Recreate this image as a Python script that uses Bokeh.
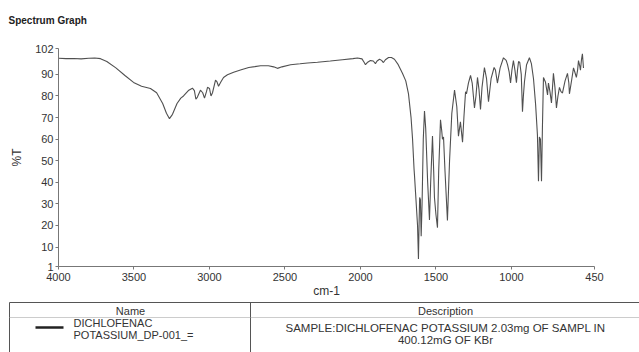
from bokeh.plotting import figure
from bokeh.layouts import column
from bokeh.models import Range1d, FixedTicker
from bokeh.core.properties import value
from bokeh.embed import file_html
from bokeh.resources import INLINE

# ---- data ----
wavenumber = [4000, 3950, 3900, 3850, 3800, 3760, 3722, 3680, 3620, 3560, 3503, 3450, 3391, 3350, 3310,
              3285, 3265, 3245, 3215, 3190, 3172, 3140, 3113, 3100, 3090, 3080, 3060, 3045, 3033, 3020,
              3013, 3000, 2990, 2980, 2960, 2950, 2940, 2925, 2907, 2881, 2840, 2795, 2740, 2700, 2662,
              2610, 2575, 2550, 2520, 2463, 2400, 2350, 2285, 2200, 2120, 2050, 2020, 1990, 1975, 1967,
              1955, 1934, 1915, 1901, 1890, 1874, 1860, 1848, 1835, 1814, 1795, 1775, 1750, 1722, 1700,
              1682, 1665, 1655, 1645, 1642, 1635, 1622, 1616, 1612, 1608, 1603, 1598, 1592, 1584, 1576,
              1568, 1555, 1543, 1535, 1523, 1515, 1510, 1500, 1490, 1482, 1470, 1462, 1457, 1450, 1440,
              1424, 1410, 1395, 1377, 1362, 1351, 1338, 1324, 1315, 1304, 1298, 1285, 1271, 1260, 1245,
              1235, 1225, 1215, 1205, 1195, 1179, 1165, 1152, 1135, 1115, 1106, 1093, 1075, 1053, 1035,
              1026, 1015, 1006, 997, 987, 977, 967, 960, 953, 945, 935, 927, 921, 914, 900,
              881, 868, 854, 840, 828, 821, 815, 808, 801, 795, 788, 775, 761, 755, 745,
              735, 722, 712, 702, 692, 682, 672, 662, 645, 629, 620, 616, 600, 589, 580,
              570, 562, 556, 548, 543, 536, 530, 523]
transmittance = [97.5, 97.3, 97.4, 97.2, 97.5, 97.6, 97.3, 96.0, 93.0, 89.5, 86.3, 84.5, 83.5, 81.5, 76.5,
                 72.0, 69.5, 71.5, 76.5, 79.0, 80.0, 82.5, 83.6, 82.5, 78.5, 79.5, 82.7, 81.5, 79.0, 82.0,
                 84.0, 83.5, 80.0, 81.5, 87.3, 86.5, 84.5, 86.5, 88.6, 89.8, 91.0, 92.0, 93.2, 93.6, 94.0,
                 94.0, 93.5, 92.8, 93.5, 94.5, 94.9, 95.3, 95.6, 96.2, 96.8, 97.3, 97.6, 97.2, 95.5, 94.5,
                 95.5, 96.4, 96.2, 95.0, 96.2, 97.0, 96.5, 95.5, 96.8, 97.8, 97.8, 97.0, 94.5, 90.5, 87.0,
                 81.0, 70.0, 60.0, 46.0, 43.0, 35.0, 20.0, 4.5, 20.0, 33.0, 32.0, 15.0, 30.0, 60.0, 73.0,
                 65.0, 40.0, 22.5, 40.0, 61.4, 45.0, 33.0, 25.0, 19.0, 45.0, 69.0, 64.0, 60.0, 61.0, 45.0,
                 22.3, 50.0, 72.0, 82.7, 75.0, 61.4, 68.0, 58.6, 70.0, 82.0, 81.0, 86.0, 89.5, 86.0, 74.5,
                 80.0, 88.6, 83.0, 73.8, 84.0, 93.2, 88.0, 77.3, 88.0, 93.2, 92.0, 86.0, 93.0, 97.7, 96.5,
                 94.5, 91.0, 86.0, 92.0, 96.4, 92.0, 86.2, 92.0, 96.0, 95.5, 90.0, 72.7, 80.0, 86.5, 94.5,
                 97.7, 95.0, 88.0, 76.0, 62.0, 40.5, 61.0, 60.0, 40.5, 65.0, 88.6, 86.5, 80.5, 86.0, 82.0,
                 76.8, 90.5, 84.0, 74.5, 80.0, 84.0, 82.0, 81.4, 87.0, 90.5, 86.0, 81.0, 88.0, 93.0, 91.0,
                 88.6, 92.0, 96.4, 94.0, 92.0, 97.0, 99.5, 93.0]

x_ticks = [4000, 3500, 3000, 2500, 2000, 1500, 1000, 450]
y_ticks = [1, 10, 20, 30, 40, 50, 60, 70, 80, 90, 102]

title_text = "Spectrum Graph"
x_label = "cm-1"
y_label = "%T"
col_headers = ["Name", "Description"]
sample_name = ["DICHLOFENAC", "POTASSIUM_DP-001_="]
sample_desc = ["SAMPLE:DICHLOFENAC POTASSIUM 2.03mg OF SAMPL IN", "400.12mG OF KBr"]

FONT = "Liberation Sans"
TXT = "#333333"
W = 639

# ---- title strip ----
t = figure(width=W, height=34, x_range=Range1d(0, W), y_range=Range1d(34, 0),
           output_backend="svg", toolbar_location=None, min_border=0,
           min_border_left=0, min_border_right=0, min_border_top=0, min_border_bottom=0)
t.frame_align = False
t.axis.visible = False
t.grid.visible = False
t.outline_line_color = None
t.text(x=[8], y=[20], text=[title_text], text_font=value(FONT), text_font_size="10px",
       text_font_style="bold", text_color="#222222", text_baseline="middle", text_align="left")

# ---- spectrum ----
p = figure(width=W, height=266, x_range=Range1d(4000, 450), y_range=Range1d(1, 102),
           output_backend="svg", toolbar_location=None,
           min_border_top=14, min_border_bottom=32, min_border_left=58, min_border_right=45)
p.frame_align = False
p.line(wavenumber, transmittance, line_color="#505050", line_width=1.1)
p.grid.visible = False
p.outline_line_color = None
p.xaxis.ticker = FixedTicker(ticks=x_ticks)
p.yaxis.ticker = FixedTicker(ticks=y_ticks)
for ax in (p.xaxis[0], p.yaxis[0]):
    ax.axis_line_color = "#777777"
    ax.major_tick_line_color = "#777777"
    ax.minor_tick_line_color = None
    ax.major_tick_out = 3
    ax.major_tick_in = 0
    ax.major_label_text_font = FONT
    ax.major_label_text_font_size = "11px"
    ax.major_label_text_color = TXT
    ax.major_label_standoff = 2
    ax.axis_label_text_font = FONT
    ax.axis_label_text_font_size = "12px"
    ax.axis_label_text_font_style = "normal"
    ax.axis_label_text_color = TXT
p.xaxis.major_label_standoff = 3
p.xaxis.axis_label = x_label
p.xaxis.axis_label_standoff = 0
p.yaxis.axis_label = y_label
p.yaxis.axis_label_standoff = 8

# ---- table strip (local y = page y - 300) ----
tb = figure(width=W, height=52, x_range=Range1d(0, W), y_range=Range1d(52, 0),
            output_backend="svg", toolbar_location=None, min_border=0,
            min_border_left=0, min_border_right=0, min_border_top=0, min_border_bottom=0)
tb.frame_align = False
tb.axis.visible = False
tb.grid.visible = False
tb.outline_line_color = None
tb.segment(x0=[9, 9, 250], y0=[2, 2, 2], x1=[W, 9, 250], y1=[2, 52, 52],
           line_color="#555555", line_width=1)
tb.segment(x0=[9], y0=[17], x1=[W], y1=[17], line_color="#999999", line_width=1, line_dash="1 1")
tb.text(x=[130, 445], y=[10, 10], text=col_headers, text_font=value(FONT), text_font_size="11px",
        text_color=TXT, text_baseline="middle", text_align="center")
tb.segment(x0=[35], y0=[27], x1=[63], y1=[27], line_color="#222222", line_width=2.5)
tb.text(x=[73, 73], y=[22, 34], text=sample_name, text_font=value(FONT), text_font_size="11px",
        text_color=TXT, text_baseline="middle", text_align="left")
tb.text(x=[445, 445], y=[27, 39], text=sample_desc, text_font=value(FONT), text_font_size="11.5px",
        text_color=TXT, text_baseline="middle", text_align="center")

layout = column(t, p, tb, spacing=0)
open("out.html", "w").write(file_html(layout, INLINE))
